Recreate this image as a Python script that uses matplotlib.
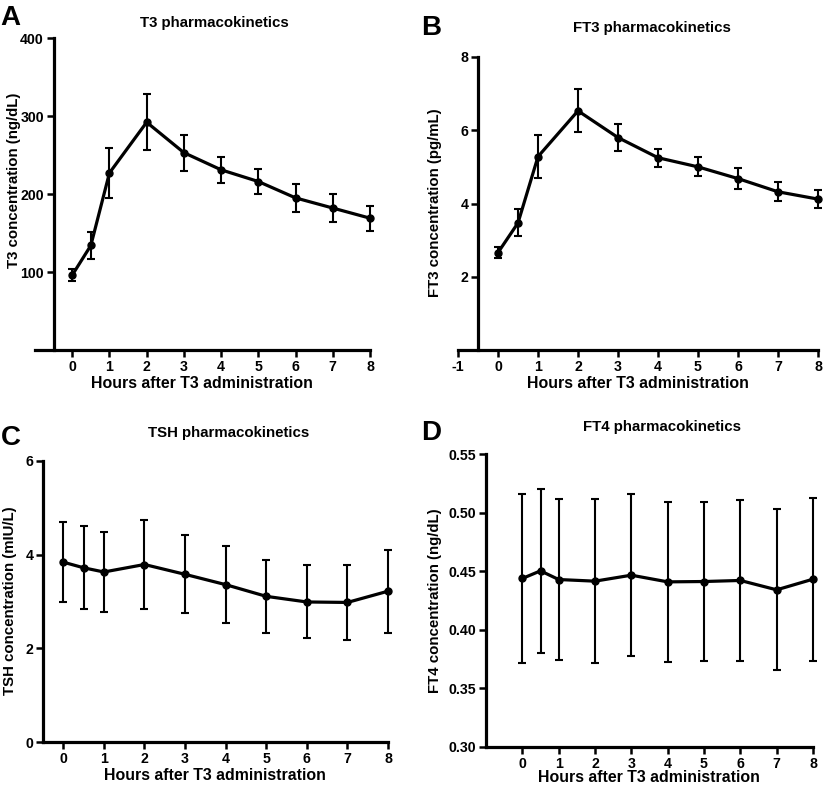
import numpy as np
import matplotlib.pyplot as plt

plt.rcParams['font.family'] = ['Liberation Sans', 'DejaVu Sans']
plt.rcParams['font.weight'] = 'bold'

hours = [0, 0.5, 1, 2, 3, 4, 5, 6, 7, 8]

t3_mean = [96, 134, 227, 292, 253, 231, 216, 195, 182, 169]
t3_err = [8, 17, 32, 36, 23, 17, 16, 18, 18, 16]

ft3_mean = [2.66, 3.47, 5.28, 6.53, 5.80, 5.25, 5.00, 4.68, 4.32, 4.12]
ft3_err = [0.15, 0.37, 0.58, 0.59, 0.37, 0.24, 0.26, 0.29, 0.26, 0.24]

tsh_mean = [3.84, 3.72, 3.63, 3.79, 3.58, 3.36, 3.11, 2.99, 2.98, 3.22]
tsh_err = [0.86, 0.89, 0.85, 0.94, 0.83, 0.82, 0.78, 0.78, 0.80, 0.89]

ft4_mean = [0.4438, 0.4503, 0.4429, 0.4415, 0.4466, 0.4409, 0.4412, 0.4421, 0.4341, 0.4432]
ft4_err = [0.0723, 0.070, 0.069, 0.070, 0.069, 0.068, 0.0676, 0.069, 0.0686, 0.0695]

W, H = 825, 785
fig = plt.figure(figsize=(W / 100, H / 100), dpi=100)


def px_axes(left, top, right, bottom):
    return fig.add_axes([left / W, 1 - bottom / H, (right - left) / W, (bottom - top) / H])


def ftext(x, y, s, **kw):
    fig.text(x / W, 1 - y / H, s, fontweight='bold', **kw)


def panel(ax, y, err, xlim, yaxis_x, xticks, ylim, yticks, yfmt):
    ax.errorbar(hours, y, yerr=err, color='black', lw=2.3, marker='o', ms=5,
                elinewidth=1.5, capsize=3, capthick=1.5, clip_on=False, zorder=3)
    ax.set_xlim(*xlim)
    ax.set_ylim(*ylim)
    ax.spines['top'].set_visible(False)
    ax.spines['right'].set_visible(False)
    ax.spines['left'].set_position(('data', yaxis_x))
    for s in ('left', 'bottom'):
        ax.spines[s].set_linewidth(2.3)
    ax.set_xticks(xticks)
    ax.set_xticklabels([str(t) for t in xticks], fontweight='bold')
    ax.set_yticks(yticks)
    ax.set_yticklabels([yfmt.format(v) for v in yticks], fontweight='bold')
    ax.tick_params(direction='out', length=5, width=1.8, labelsize=10.2, pad=2)


axA = px_axes(35, 38, 370, 350)
panel(axA, t3_mean, t3_err, (-1, 8), -0.5, [0, 1, 2, 3, 4, 5, 6, 7, 8],
      (0, 400), [100, 200, 300, 400], '{:d}')

axB = px_axes(458, 57, 818, 350)
panel(axB, ft3_mean, ft3_err, (-1, 8), -0.5, [-1, 0, 1, 2, 3, 4, 5, 6, 7, 8],
      (0, 8), [2, 4, 6, 8], '{:d}')

axC = px_axes(43, 461, 388, 742)
panel(axC, tsh_mean, tsh_err, (-0.5, 8), -0.5, [0, 1, 2, 3, 4, 5, 6, 7, 8],
      (0, 6), [0, 2, 4, 6], '{:d}')

axD = px_axes(486, 454, 813, 747)
panel(axD, ft4_mean, ft4_err, (-1, 8), -1, [0, 1, 2, 3, 4, 5, 6, 7, 8],
      (0.30, 0.55), [0.30, 0.35, 0.40, 0.45, 0.50, 0.55], '{:.2f}')

# titles
for s, x, y in [('T3 pharmacokinetics', 214, 23), ('FT3 pharmacokinetics', 652, 28),
                ('TSH pharmacokinetics', 229, 433), ('FT4 pharmacokinetics', 662, 427)]:
    ftext(x, y, s, fontsize=10.8, ha='center', va='center')

# x labels
for x, y in [(202, 383), (638, 384), (215, 776), (649, 777)]:
    ftext(x, y, 'Hours after T3 administration', fontsize=11.4, ha='center', va='center')

# y labels
for s, x, y in [('T3 concentration (ng/dL)', 14, 180), ('FT3 concentration (pg/mL)', 435, 203),
                ('TSH concentration (mIU/L)', 10, 601), ('FT4 concentration (ng/dL)', 435, 601)]:
    ftext(x, y, s, fontsize=10.8, ha='center', va='center', rotation=90)

# panel letters
for lab, x, y in [('A', 0, 25), ('B', 421, 35), ('C', 1, 445), ('D', 421, 440)]:
    ftext(x, y, lab, fontsize=20, ha='left', va='baseline')

fig.savefig('out.png', dpi=100)
